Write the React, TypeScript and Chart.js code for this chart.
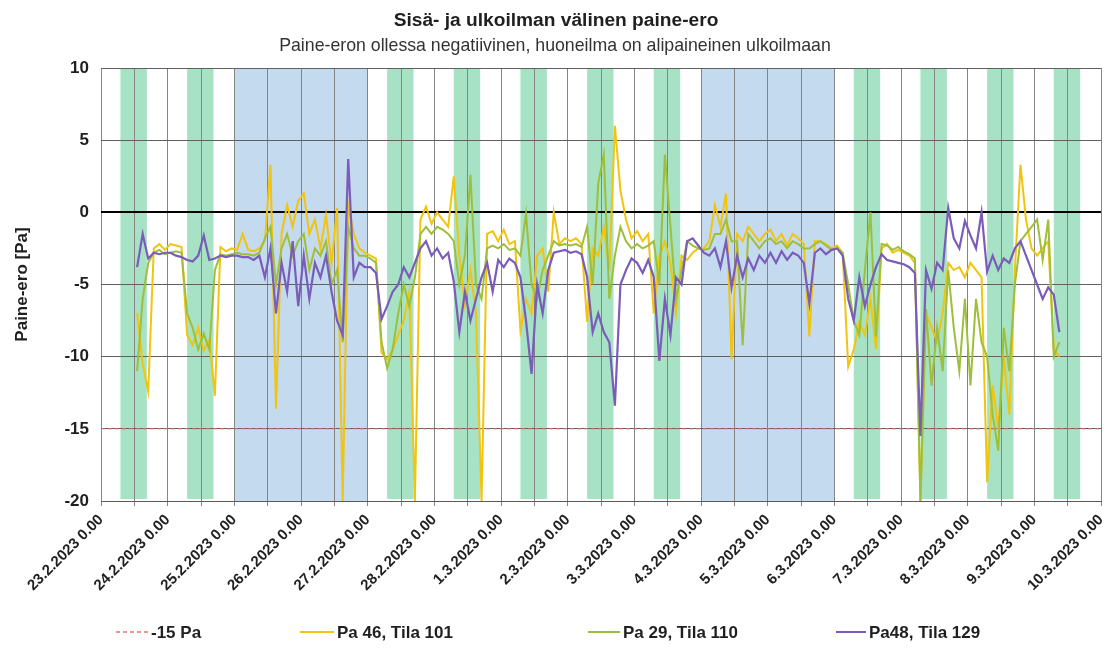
import React, { useEffect, useRef } from 'react';
import { Chart, registerables } from 'chart.js';

Chart.register(...registerables);

const TITLE = 'Sisä- ja ulkoilman välinen paine-ero';
const SUBTITLE = 'Paine-eron ollessa negatiivinen, huoneilma on alipaineinen ulkoilmaan';
const Y_TITLE = 'Paine-ero [Pa]';

const dayLabels = [
  '23.2.2023 0.00', '24.2.2023 0.00', '25.2.2023 0.00', '26.2.2023 0.00',
  '27.2.2023 0.00', '28.2.2023 0.00', '1.3.2023 0.00', '2.3.2023 0.00',
  '3.3.2023 0.00', '4.3.2023 0.00', '5.3.2023 0.00', '6.3.2023 0.00',
  '7.3.2023 0.00', '8.3.2023 0.00', '9.3.2023 0.00', '10.3.2023 0.00',
];

const seriesNames = ['-15 Pa', 'Pa 46, Tila 101', 'Pa 29, Tila 110', 'Pa48, Tila 129'];

// hours since 23.2.2023 0.00
const hours = [
  13, 15, 17, 19, 21, 23,
  25, 27, 29, 31, 33, 35, 37, 39, 41, 43, 45, 47,
  49, 51, 53, 55, 57, 59, 61, 63, 65, 67, 69, 71,
  73, 75, 77, 79, 81, 83, 85, 87, 89, 91, 93, 95,
  97, 99, 101, 103, 105, 107, 109, 111, 113, 115, 117, 119,
  121, 123, 125, 127, 129, 131, 133, 135, 137, 139, 141, 143,
  145, 147, 149, 151, 153, 155, 157, 159, 161, 163, 165, 167,
  169, 171, 173, 175, 177, 179, 181, 183, 185, 187, 189, 191,
  193, 195, 197, 199, 201, 203, 205, 207, 209, 211, 213, 215,
  217, 219, 221, 223, 225, 227, 229, 231, 233, 235, 237, 239,
  241, 243, 245, 247, 249, 251, 253, 255, 257, 259, 261, 263,
  265, 267, 269, 271, 273, 275, 277, 279, 281, 283, 285, 287,
  289, 291, 293, 295, 297, 299, 301, 303, 305, 307, 309, 311,
  313, 315, 317, 319, 321, 323, 325, 327, 329, 331, 333, 335,
  337, 339, 341, 343, 345,
];

const pa46Tila101 = [
  -7, -10.5, -12.4, -2.5, -2.2, -2.6,
  -2.2, -2.3, -2.4, -8.5, -9.2, -8.0, -9.6, -8.8, -12.7, -2.4, -2.7, -2.5,
  -2.6, -1.5, -2.6, -2.7, -2.5, -2.0, 3.3, -13.6, -1.5, 0.5, -1.0, 0.8,
  1.3, -1.5, -0.5, -2.5, -0.2, -3.5, 0.3, -20, 0.5, -1.5, -2.5, -2.8,
  -3.0, -3.2, -9.7, -10.2, -9.5, -8.5, -7.5, -5.5, -20, -0.5, 0.4, -0.8,
  0.0, -0.5, -1.0, 2.5, -3.0, -6.4, -4.0, -7.0, -20, -1.5, -1.3, -2.0,
  -1.2, -2.2, -2.0, -8.2, -6.0, -7.0, -3.0, -2.5, -5.5, 0.0, -2.2, -1.8,
  -2.0, -1.8, -2.2, -7.6, -2.5, -3.0, -1.0, -4.0, 6.0, 1.5, -0.5, -1.8,
  -1.3, -2.0, -1.5, -7.0, -3.0, -2.0, -3.5, -7.0, -3.0, -3.3, -2.8, -2.5,
  -2.5, -2.0, 0.5, -1.0, 1.3, -10.2, -1.5, -2.0, -1.0, -1.5, -2.0, -1.5,
  -1.2, -2.0, -1.5, -2.3, -1.5, -1.8, -2.2, -8.6, -2.0, -2.0, -2.2, -2.5,
  -2.3, -2.8, -10.7, -9.5, -7.6, -8.5, -6.0, -9.5, -2.5, -2.2, -2.8, -2.6,
  -2.8, -3.0, -3.5, -20, -7.0, -8.0, -9.0, -7.0, -3.5, -4.0, -3.8, -4.5,
  -3.5, -4.0, -4.5, -18.7, -12, -15, -10, -14, -4, 3.3, -0.5, -2.5,
  -3.0, -2.5, -2.0, -9.5, -10.0,
];

const pa29Tila110 = [
  -11, -6, -3.5, -2.8, -2.6, -2.9,
  -2.8, -2.7, -2.8, -7.0, -8.0, -9.5, -8.4, -9.5, -4.0, -2.9, -3.0, -2.9,
  -2.8, -2.9, -2.9, -3.0, -2.8, -1.8, -1.0, -5.0, -2.5, -1.5, -3.0, -2.0,
  -1.5, -4.0, -2.5, -3.0, -2.0, -5.0, -4.0, -9.0, -1.0, -2.5, -3.0, -3.0,
  -3.2, -3.5, -9.0, -10.8, -9.5, -7.0, -5.0, -6.5, -4.5, -1.5, -1.0, -1.5,
  -1.0, -1.2, -1.5, -2.0, -5.0, -3.0, 2.6, -5.0, -6.0, -2.5, -2.3, -2.5,
  -2.2, -2.6, -2.5, -3.0, -0.1, -5.0, -6.0, -4.0, -3.0, -2.0, -2.3, -2.2,
  -2.3, -2.2, -2.4, -1.0, -5.0, 2.0, 4.0, -6.0, -3.0, -1.0, -2.0, -2.5,
  -2.2, -2.5, -2.3, -2.0, -5.0, 4.0, -1.0, -6.0, -4.0, -2.0, -2.3, -2.5,
  -2.6, -2.5, -1.5, -1.5, -0.5, -2.0, -2.0, -9.2, -1.5, -2.0, -2.5, -2.0,
  -1.8, -2.2, -2.0, -2.5, -2.0, -2.2, -2.5, -2.5, -2.2, -2.0, -2.3, -2.6,
  -2.5, -2.8, -5.0, -7.5, -8.5, -4.0, 0.0, -8.6, -2.2, -2.3, -2.6, -2.4,
  -2.7, -2.9, -3.2, -20, -6.7, -12, -8, -11, -4, -8, -11, -6,
  -12, -6, -9, -10, -14, -16.5, -8, -11, -5, -2, -1.5, -1.0,
  -0.5, -3.3, -0.5, -10, -9,
];

const pa48Tila129 = [
  -3.8, -1.5, -3.2, -2.8, -2.9, -2.8,
  -2.8, -3.0, -3.1, -3.3, -3.4, -3.0, -1.6, -3.3, -3.2, -3.0, -3.1, -3.0,
  -3.0, -3.1, -3.1, -3.3, -3.0, -4.5, -2.5, -7.0, -3.5, -5.5, -2.0, -6.5,
  -3.0, -6.0, -3.5, -4.5, -3.0, -5.5, -7.5, -8.5, 3.7, -4.5, -3.5, -3.8,
  -3.8, -4.2, -7.4, -6.5, -5.5, -5.0, -3.8, -4.5, -3.5, -2.5, -2.0, -3.0,
  -2.5, -3.2, -2.8, -4.8, -8.3, -5.5, -7.5, -6.0, -4.5, -3.5, -5.5, -3.3,
  -3.8, -3.2, -3.5, -4.5, -7.5, -11.2, -5.0, -7.0, -4.0, -2.8, -2.7, -2.6,
  -2.8, -2.7, -2.9, -4.5, -8.3, -7.0, -8.3, -9.0, -13.4, -5.0, -4.0, -3.2,
  -3.5, -4.2, -3.3, -4.5, -10.3, -6.0, -8.5, -4.5, -5.0, -2.0, -1.8, -2.3,
  -2.8, -3.0, -2.5, -3.8, -2.0, -5.2, -3.0, -4.5, -3.2, -4.0, -3.0, -3.5,
  -2.8, -3.5, -2.7, -3.3, -2.8, -3.0, -3.5, -6.3, -2.8, -2.5, -2.9, -2.6,
  -2.5, -3.0, -6.0, -7.5, -4.5, -6.5, -5.0, -3.8, -2.9, -3.3, -3.4, -3.5,
  -3.6, -3.8, -4.2, -15.5, -4.0, -5.3, -3.5, -4.0, 0.3, -1.8, -2.5, -0.6,
  -1.6, -2.5, 0.0, -4.1, -3.0, -4.0, -3.2, -3.5, -2.5, -2.0, -3.0, -4.0,
  -5.0, -6.0, -5.2, -5.7, -8.3,
];

const limitValue = -15;

// workday indexes (days since 23.2) shaded green, and weekend spans (hours) shaded blue
const workDays = [0, 1, 4, 5, 6, 7, 8, 11, 12, 13, 14];
const workStartHour = 7;
const workEndHour = 16.5;
const weekendStart = [48, 216];
const weekendEnd = [96, 264];

const COLORS = {
  limit: '#E57373',
  pa46: '#F1C40F',
  pa29: '#9DBF3B',
  pa48: '#7A5CBA',
  work: '#A6E2C3',
  weekend: '#C4DAEF',
  text: '#1f1f1f',
};

const SANS = '"Liberation Sans", Arial, sans-serif';

function fitFont(ctx: CanvasRenderingContext2D, text: string, weight: string, family: string, target: number) {
  ctx.font = `${weight} 100px ${family}`;
  const w = ctx.measureText(text).width;
  const size = (100 * target) / w;
  return `${weight} ${size.toFixed(2)}px ${family}`;
}

const bandsPlugin = {
  id: 'bands',
  beforeDraw(chart: any) {
    const { ctx, chartArea, scales } = chart;
    const x = scales.x;
    const h = chartArea.bottom - chartArea.top;
    ctx.save();
    ctx.fillStyle = COLORS.weekend;
    weekendStart.forEach((s, i) => {
      const x0 = x.getPixelForValue(s);
      const x1 = x.getPixelForValue(weekendEnd[i]);
      ctx.fillRect(x0, chartArea.top, x1 - x0, h);
    });
    ctx.fillStyle = COLORS.work;
    workDays.forEach((d) => {
      const x0 = x.getPixelForValue(d * 24 + workStartHour);
      const x1 = x.getPixelForValue(d * 24 + workEndHour);
      ctx.fillRect(x0, chartArea.top, x1 - x0, h - 2);
    });
    ctx.restore();
  },
};

const textPlugin = {
  id: 'texts',
  afterDraw(chart: any) {
    const { ctx } = chart;
    ctx.save();
    ctx.fillStyle = COLORS.text;
    ctx.textAlign = 'center';
    ctx.textBaseline = 'middle';
    ctx.font = fitFont(ctx, TITLE, 'bold', SANS, 325);
    ctx.fillText(TITLE, 556, 21);
    ctx.fillStyle = '#333';
    ctx.font = fitFont(ctx, SUBTITLE, 'normal', SANS, 552);
    ctx.fillText(SUBTITLE, 555, 46);

    // legend
    const ly = 632;
    const items = [
      { name: seriesNames[0], color: COLORS.limit, x0: 116, x1: 148, dash: [4, 3], w: 1.5 },
      { name: seriesNames[1], color: COLORS.pa46, x0: 300, x1: 334, dash: [], w: 2 },
      { name: seriesNames[2], color: COLORS.pa29, x0: 588, x1: 620, dash: [], w: 2 },
      { name: seriesNames[3], color: COLORS.pa48, x0: 836, x1: 866, dash: [], w: 2 },
    ];
    ctx.textAlign = 'left';
    ctx.font = `bold 17px ${SANS}`;
    items.forEach((it) => {
      ctx.strokeStyle = it.color;
      ctx.lineWidth = it.w;
      ctx.setLineDash(it.dash);
      ctx.beginPath();
      ctx.moveTo(it.x0, ly);
      ctx.lineTo(it.x1, ly);
      ctx.stroke();
      ctx.setLineDash([]);
      ctx.fillStyle = COLORS.text;
      ctx.fillText(it.name, it.x1 + 3, ly + 1);
    });
    ctx.restore();
  },
};

function toPoints(values: number[]) {
  return values.map((v, i) => ({ x: hours[i], y: v }));
}

export default function App() {
  const ref = useRef<HTMLCanvasElement | null>(null);

  useEffect(() => {
    if (!ref.current) return;
    const chart = new Chart(ref.current, {
      type: 'line',
      data: {
        datasets: [
          {
            label: seriesNames[0],
            data: [{ x: 0, y: limitValue }, { x: 360, y: limitValue }],
            borderColor: COLORS.limit,
            borderWidth: 1,
            borderDash: [4, 3],
            pointRadius: 0,
            order: 4,
          },
          {
            label: seriesNames[1],
            data: toPoints(pa46Tila101),
            borderColor: COLORS.pa46,
            borderWidth: 2,
            pointRadius: 0,
            order: 3,
          },
          {
            label: seriesNames[2],
            data: toPoints(pa29Tila110),
            borderColor: COLORS.pa29,
            borderWidth: 2,
            pointRadius: 0,
            order: 2,
          },
          {
            label: seriesNames[3],
            data: toPoints(pa48Tila129),
            borderColor: COLORS.pa48,
            borderWidth: 2.2,
            pointRadius: 0,
            order: 1,
          },
        ],
      },
      options: {
        animation: false,
        responsive: false,
        maintainAspectRatio: false,
        layout: { padding: { top: 68, right: 11, bottom: 0, left: 0 } },
        plugins: {
          legend: { display: false },
          title: { display: false },
          tooltip: { enabled: false },
        },
        scales: {
          x: {
            type: 'linear',
            min: 0,
            max: 360,
            afterFit: (s: any) => {
              s.height = 147;
              s.paddingRight = 0;
              s.paddingLeft = 0;
            },
            ticks: {
              stepSize: 12,
              autoSkip: false,
              minRotation: 45,
              maxRotation: 45,
              padding: 5,
              color: COLORS.text,
              font: { family: SANS, size: 15, weight: 'bold' },
              callback: (v: any) => (Number(v) % 24 === 0 ? dayLabels[Number(v) / 24] : ''),
            },
            grid: { color: '#858585', lineWidth: 1, drawTicks: true, tickLength: 5 },
            border: { display: true, color: '#5a5a5a' },
          },
          y: {
            min: -20,
            max: 10,
            afterFit: (s: any) => {
              s.width = 101;
            },
            ticks: {
              stepSize: 5,
              padding: 12,
              color: COLORS.text,
              font: { family: SANS, size: 17, weight: 'bold' },
            },
            grid: {
              color: (c: any) => (c.tick && c.tick.value === 0 ? '#000000' : '#606060'),
              lineWidth: (c: any) => (c.tick && c.tick.value === 0 ? 2 : 1),
              drawTicks: false,
            },
            border: { display: false },
            title: {
              display: true,
              text: Y_TITLE,
              color: COLORS.text,
              font: { family: SANS, size: 17, weight: 'bold' },
              padding: { top: 12, bottom: 0 },
            },
          },
        },
      },
      plugins: [bandsPlugin, textPlugin],
    } as any);
    return () => chart.destroy();
  }, []);

  return (
    <div style={{ position: 'absolute', left: 0, top: 0, width: 1112, height: 648, background: '#fff' }}>
      <canvas ref={ref} width={1112} height={648} style={{ display: 'block' }} />
    </div>
  );
}
